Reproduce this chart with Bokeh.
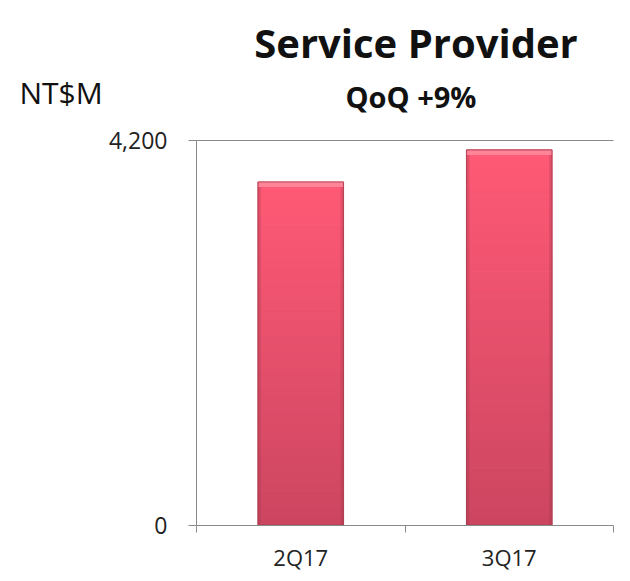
from bokeh.plotting import figure
from bokeh.models import Range1d, FixedTicker, NumeralTickFormatter, Label, LinearAxis
from bokeh.embed import file_html
from bokeh.resources import INLINE

# ---- data ----
categories = ["2Q17", "3Q17"]
revenue = [3750, 4100]          # NT$M
y_ticks = [0, 4200]
title_text = "Service Provider"
unit_text = "NT$M"
growth_text = "QoQ +9%"

FONT = "Open Sans"
AXIS_COLOR = "#8a8a8a"
TOP_COLOR = (255, 90, 118)
BOTTOM_COLOR = (205, 70, 97)

W, H = 628, 579
# pixel layout of the plotting area (page coordinates)
PX_LEFT, PX_RIGHT = 196.0, 613.0
PX_BOTTOM, PX_TOP = 524.6, 140.3

n = len(categories)
centers = [i + 0.5 for i in range(n)]
y_max = y_ticks[-1]

ux = (PX_RIGHT - PX_LEFT) / n          # px per x unit
uy = (PX_BOTTOM - PX_TOP) / y_max      # px per y unit
x_start = -PX_LEFT / ux
x_end = n + (W - PX_RIGHT) / ux
y_start = -(H - PX_BOTTOM) / uy
y_end = y_max + PX_TOP / uy


def px_x(px):
    return (px - PX_LEFT) / ux


def px_y(py):
    return (PX_BOTTOM - py) / uy


p = figure(width=W, height=H, output_backend="svg", toolbar_location=None,
           title=None, x_range=Range1d(x_start, x_end), y_range=Range1d(y_start, y_end),
           min_border=0, x_axis_location=None, y_axis_location=None)
p.outline_line_color = None
p.background_fill_color = "white"
p.border_fill_color = "white"
p.xgrid.grid_line_color = None
p.ygrid.grid_line_color = None

BAR_W = 0.41
# gradient-filled bars built from the values
N = 40
xs, bots, tops, cols = [], [], [], []
for c, v in zip(centers, revenue):
    for i in range(N):
        t = i / (N - 1)  # 0 bottom -> 1 top
        rgb = [int(BOTTOM_COLOR[k] + (TOP_COLOR[k] - BOTTOM_COLOR[k]) * t) for k in range(3)]
        xs.append(c)
        bots.append(v * i / N)
        tops.append(v * (i + 1) / N)
        cols.append("#%02x%02x%02x" % tuple(rgb))
p.vbar(x=xs, bottom=bots, top=tops, width=BAR_W, fill_color=cols,
       line_color=cols, line_width=1)

# bevel: light band on top, slightly darker side bands
bevel = 5 / uy
p.vbar(x=centers, top=revenue, bottom=[v - bevel for v in revenue], width=BAR_W,
       fill_color="#ff8fa1", fill_alpha=0.8, line_color=None)
side = 3 / ux
for sgn in (-1, 1):
    p.vbar(x=[c + sgn * (BAR_W / 2 - side / 2) for c in centers], top=[v - bevel for v in revenue],
           bottom=0, width=side, fill_color="#9e3347", fill_alpha=0.25, line_color=None)
p.vbar(x=centers, top=revenue, bottom=0, width=BAR_W, fill_color=None,
       line_color="#a8404f", line_width=1.2, line_alpha=0.8)

# y axis
yax = LinearAxis(fixed_location=0, bounds=(y_ticks[0], y_ticks[-1]))
yax.ticker = FixedTicker(ticks=y_ticks, minor_ticks=[])
yax.formatter = NumeralTickFormatter(format="0,0")
yax.axis_line_color = AXIS_COLOR
yax.major_tick_line_color = AXIS_COLOR
yax.major_tick_out = 8
yax.major_tick_in = 0
yax.minor_tick_line_color = None
yax.major_label_standoff = 21
yax.major_label_text_font = FONT
yax.major_label_text_font_size = "23px"
yax.major_label_text_color = "#222222"
p.add_layout(yax, "left")

# x axis: labels at category centres, ticks at boundaries
xax = LinearAxis(fixed_location=0, bounds=(0, n))
xax.ticker = FixedTicker(ticks=centers, minor_ticks=list(range(n + 1)))
xax.major_label_overrides = {c: lab for c, lab in zip(centers, categories)}
xax.axis_line_color = AXIS_COLOR
xax.major_tick_line_color = None
xax.minor_tick_line_color = AXIS_COLOR
xax.minor_tick_out = 7
xax.minor_tick_in = 0
xax.major_tick_out = 7
xax.major_label_standoff = 10
xax.major_label_text_font = FONT
xax.major_label_text_font_size = "22px"
xax.major_label_text_color = "#222222"
p.add_layout(xax, "below")

# top boundary line at the maximum tick
top_ax = LinearAxis(fixed_location=y_max, bounds=(0, n))
top_ax.ticker = FixedTicker(ticks=[], minor_ticks=[])
top_ax.axis_line_color = AXIS_COLOR
top_ax.major_tick_line_color = None
top_ax.minor_tick_line_color = None
top_ax.major_label_text_font_size = "0px"
p.add_layout(top_ax, "above")

# texts
p.add_layout(Label(x=px_x(415.5), y=px_y(42.3), text=title_text,
                   text_align="center", text_baseline="alphabetic",
                   text_font=FONT, text_font_style="bold", text_font_size="40px",
                   text_color="#111111"))
p.add_layout(Label(x=px_x(19), y=px_y(91.7), text=unit_text,
                   text_align="left", text_baseline="alphabetic",
                   text_font=FONT, text_font_size="30px", text_color="#111111"))
p.add_layout(Label(x=px_x(410.5), y=px_y(96), text=growth_text,
                   text_align="center", text_baseline="alphabetic",
                   text_font=FONT, text_font_style="bold", text_font_size="29px",
                   text_color="#111111"))

open("out.html", "w").write(file_html(p, INLINE))
